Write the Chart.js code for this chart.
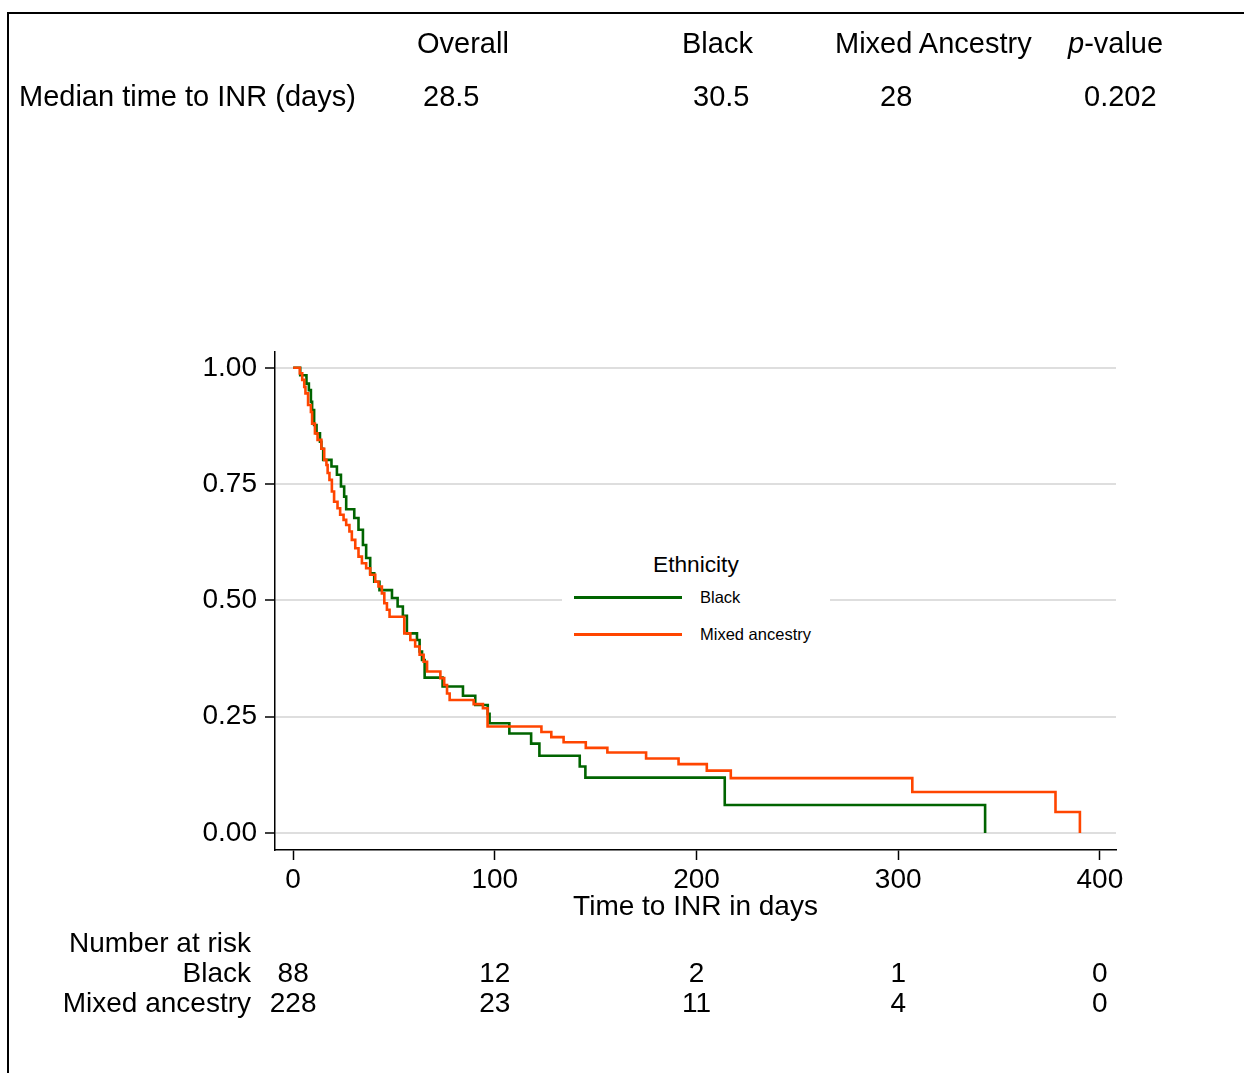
<!DOCTYPE html>
<html>
<head>
<meta charset="utf-8">
<title>Time to INR by ethnicity</title>
<script src="https://cdn.jsdelivr.net/npm/chart.js@4.4.1/dist/chart.umd.min.js"></script>
<style>
  body { margin: 0; background: #fff; font-family: "Liberation Sans", Arial, sans-serif; color: #000; }
  #page { position: relative; width: 1244px; height: 1073px; overflow: hidden; }
  #frame { position: absolute; left: 7px; top: 12px; width: 1400px; height: 1200px;
           border-top: 2px solid #000; border-left: 2px solid #000; }
  #wrap { position: absolute; left: 0; top: 0; width: 1244px; height: 1073px; }
  .t { position: absolute; white-space: nowrap; line-height: 1; font-size: 28px; }
  .h { font-size: 29px; }
  .r { text-align: right; }
  .c { transform: translateX(-50%); }
  #legend { position: absolute; left: 562px; top: 545px; width: 268px; height: 110px; background: #fff; }
  .key { position: absolute; left: 574px; width: 108px; height: 3px; }
</style>
</head>
<body>
<div id="page">
  <div id="frame"></div>
  <div id="wrap"><canvas id="grafik"></canvas></div>

  <!-- header table -->
  <div class="t h" style="left:417px; top:28.5px">Overall</div>
  <div class="t h" style="left:682px; top:28.5px">Black</div>
  <div class="t h" style="left:835px; top:28.5px">Mixed Ancestry</div>
  <div class="t h" style="left:1068px; top:28.5px"><i>p</i>-value</div>
  <div class="t h" style="left:19px; top:81.5px">Median time to INR (days)</div>
  <div class="t h" style="left:423px; top:81.5px">28.5</div>
  <div class="t h" style="left:693px; top:81.5px">30.5</div>
  <div class="t h" style="left:880px; top:81.5px">28</div>
  <div class="t h" style="left:1084px; top:81.5px">0.202</div>

  <!-- legend -->
  <div id="legend"></div>
  <div class="t" style="left:653px; top:553px; font-size:22.7px">Ethnicity</div>
  <div class="key" id="keyBlack" style="top:596px"></div>
  <div class="t" style="left:700px; top:589px; font-size:16.5px">Black</div>
  <div class="key" id="keyMixed" style="top:633px"></div>
  <div class="t" style="left:700px; top:626px; font-size:16.5px">Mixed ancestry</div>

  <!-- number at risk -->
  <div class="t r" style="right:993px; top:929px">Number at risk</div>
  <div class="t r" style="right:993px; top:959px">Black</div>
  <div class="t r" style="right:993px; top:989px">Mixed ancestry</div>
  <div id="risk"></div>
</div>

<script>
// kurva Kaplan-Meier (waktu dalam hari, proporsi belum mencapai INR)
const blackTimes = [0, 3.5, 6.6, 7.8, 8.8, 9.4, 10.4, 11.6, 13.3, 14.0,
  14.9, 19.0, 21.7, 23.7, 25.3, 26.3, 30.3, 32.4, 34.6, 36.2,
  38.2, 40.2, 42.8, 49.0, 51.8, 54.4, 56.4, 61.4, 62.7, 63.9,
  65.2, 74.1, 84.2, 90.3, 96.5, 97.4, 107.2, 118.0, 122.1, 142.1,
  144.9, 214.0, 343.1];
const blackSurv = [1, 0.984, 0.966, 0.952, 0.927, 0.909, 0.877, 0.859, 0.841, 0.826,
  0.802, 0.788, 0.770, 0.745, 0.723, 0.696, 0.677, 0.652, 0.619, 0.591,
  0.558, 0.540, 0.522, 0.505, 0.487, 0.467, 0.429, 0.415, 0.390, 0.372,
  0.334, 0.315, 0.295, 0.275, 0.256, 0.236, 0.214, 0.192, 0.166, 0.143,
  0.119, 0.060, 0];

const mixedTimes = [0, 3.3, 4.5, 5.5, 6.1, 7.4, 8.8, 9.4, 10.8, 12.1,
  14.0, 15.4, 16.5, 17.1, 18.0, 19.2, 20.3, 22.0, 23.3, 25.0,
  26.3, 27.9, 29.1, 30.8, 32.4, 34.1, 36.2, 38.2, 40.7, 42.3,
  44.0, 45.2, 46.5, 47.8, 55.1, 58.1, 60.5, 62.7, 64.7, 66.4,
  73.0, 74.9, 76.3, 77.6, 89.5, 94.1, 96.4, 123.1, 128.0, 134.1,
  145.1, 155.8, 175.0, 191.1, 205.1, 217.0, 307.0, 378.0, 390.1];
const mixedSurv = [1, 0.988, 0.974, 0.959, 0.945, 0.920, 0.905, 0.880, 0.859, 0.845,
  0.826, 0.802, 0.791, 0.774, 0.759, 0.734, 0.712, 0.698, 0.684, 0.673,
  0.662, 0.648, 0.630, 0.612, 0.594, 0.580, 0.569, 0.555, 0.540, 0.530,
  0.515, 0.494, 0.480, 0.465, 0.429, 0.415, 0.401, 0.383, 0.368, 0.347,
  0.333, 0.318, 0.300, 0.286, 0.277, 0.268, 0.229, 0.217, 0.206, 0.195,
  0.183, 0.173, 0.160, 0.148, 0.134, 0.118, 0.088, 0.045, 0];

const xTicks = [0, 100, 200, 300, 400];
const yTicks = [0, 0.25, 0.5, 0.75, 1];
const riskBlack = [88, 12, 2, 1, 0];
const riskMixed = [228, 23, 11, 4, 0];

const warnaBlack = '#006400';
const warnaMixed = '#ff4500';
const FONT = "'Liberation Sans', Arial, sans-serif";

document.getElementById('keyBlack').style.background = warnaBlack;
document.getElementById('keyMixed').style.background = warnaMixed;

function titik(times, surv) {
  return times.map((t, i) => ({ x: t, y: surv[i] }));
}

Chart.defaults.font.family = FONT;
Chart.defaults.color = '#000';

const chart = new Chart(document.getElementById('grafik'), {
  type: 'line',
  data: {
    datasets: [
      {
        label: 'Black',
        data: titik(blackTimes, blackSurv),
        borderColor: warnaBlack,
        borderWidth: 2.6,
        pointRadius: 0,
        stepped: true,
        fill: false,
        order: 1
      },
      {
        label: 'Mixed ancestry',
        data: titik(mixedTimes, mixedSurv),
        borderColor: warnaMixed,
        borderWidth: 2.6,
        pointRadius: 0,
        stepped: true,
        fill: false,
        order: 0
      }
    ]
  },
  options: {
    responsive: true,
    maintainAspectRatio: false,
    animation: false,
    events: [],
    layout: { padding: { left: 195, top: 352, right: 128, bottom: 149 } },
    plugins: { legend: { display: false }, tooltip: { enabled: false } },
    scales: {
      x: {
        type: 'linear',
        min: -9,
        max: 408,
        afterBuildTicks: (s) => { s.ticks = xTicks.map(v => ({ value: v })); },
        afterFit: (s) => { s.height = 74; },
        ticks: { font: { size: 28 }, padding: 3, maxRotation: 0, callback: (v) => String(v) },
        grid: { drawOnChartArea: false, tickLength: 10, tickColor: '#000', tickWidth: 1.5 },
        border: { display: true, color: '#000', width: 1.5 },
        title: { display: true, text: 'Time to INR in days', font: { size: 28 }, padding: { top: 0, bottom: 0 } }
      },
      y: {
        min: -0.0366,
        max: 1.034,
        afterBuildTicks: (s) => { s.ticks = yTicks.map(v => ({ value: v })); },
        afterFit: (s) => { s.width = 80; },
        ticks: { font: { size: 28 }, padding: 8, callback: (v) => v.toFixed(2) },
        grid: { color: '#dedede', lineWidth: 2, tickLength: 10, tickColor: '#000', tickWidth: 1.5 },
        border: { display: true, color: '#000', width: 1.5 }
      }
    }
  }
});

// angka "number at risk" di bawah tiap tick sumbu x
function isiRisk() {
  const xs = chart.scales.x;
  const box = document.getElementById('risk');
  box.innerHTML = '';
  xTicks.forEach((t, i) => {
    const px = xs.getPixelForValue(t);
    box.innerHTML += `<div class="t c" style="left:${px}px; top:959px">${riskBlack[i]}</div>`;
    box.innerHTML += `<div class="t c" style="left:${px}px; top:989px">${riskMixed[i]}</div>`;
  });
}
isiRisk();
</script>
</body>
</html>
